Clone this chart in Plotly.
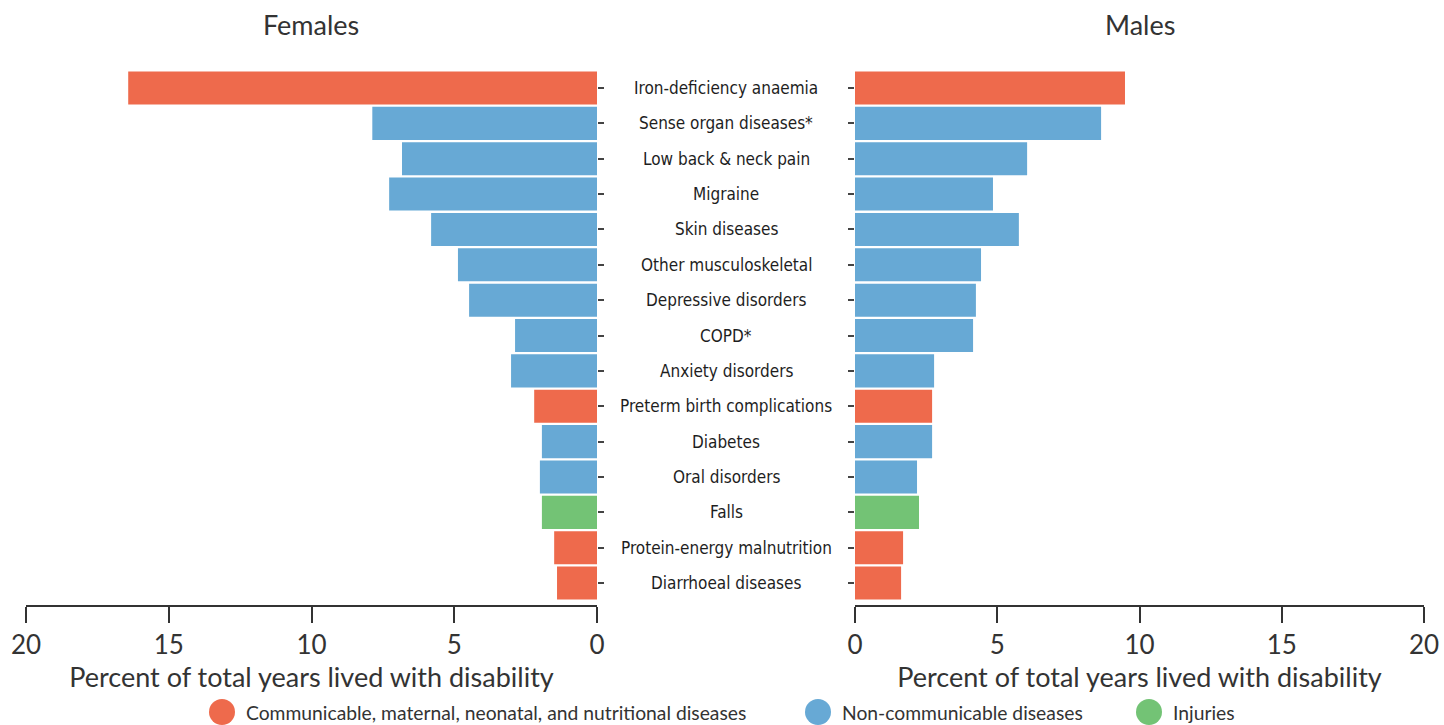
import plotly.graph_objects as go

categories = ["Iron-deficiency anaemia", "Sense organ diseases*", "Low back & neck pain",
              "Migraine", "Skin diseases", "Other musculoskeletal", "Depressive disorders",
              "COPD*", "Anxiety disorders", "Preterm birth complications", "Diabetes",
              "Oral disorders", "Falls", "Protein-energy malnutrition", "Diarrhoeal diseases"]
groups = ["Communicable", "NCD", "NCD", "NCD", "NCD", "NCD", "NCD", "NCD", "NCD",
          "Communicable", "NCD", "NCD", "Injuries", "Communicable", "Communicable"]
females = [16.42, 7.87, 6.83, 7.28, 5.81, 4.87, 4.48, 2.87, 3.01, 2.2, 1.93, 2.0, 1.93, 1.5, 1.4]
males = [9.49, 8.65, 6.05, 4.85, 5.76, 4.43, 4.25, 4.15, 2.78, 2.71, 2.71, 2.18, 2.25, 1.69, 1.62]
legend_labels = {"Communicable": "Communicable, maternal, neonatal, and nutritional diseases",
                 "NCD": "Non-communicable diseases",
                 "Injuries": "Injuries"}
tick_vals = [0, 5, 10, 15, 20]

colors = {"Communicable": "#EE6A4C", "NCD": "#67A9D5", "Injuries": "#73C375"}
bar_colors = [colors[g] for g in groups]

W, H = 1444, 725
fig = go.Figure()
fig.add_trace(go.Bar(x=females, y=categories, orientation="h", marker_color=bar_colors,
                     marker_line_width=0, xaxis="x", yaxis="y", showlegend=False,
                     hoverinfo="x+y"))
fig.add_trace(go.Bar(x=males, y=categories, orientation="h", marker_color=bar_colors,
                     marker_line_width=0, xaxis="x2", yaxis="y2", showlegend=False,
                     hoverinfo="x+y"))

ydom = [120 / H, 654.7 / H]
axis_font = dict(family="Lato, Open Sans, sans-serif", size=26, color="#333")
title_ax_font = dict(family="Lato, Open Sans, sans-serif", size=27, color="#333")
common_x = dict(tickvals=tick_vals, ticks="outside", ticklen=16, tickwidth=1.5,
                tickcolor="#333", showline=True, linecolor="#333", linewidth=1.5,
                showgrid=False, zeroline=False, tickfont=axis_font, automargin=False,
                title=dict(text="Percent of total years lived with disability",
                           font=title_ax_font, standoff=2))
common_y = dict(domain=ydom, range=[14.62, -0.5], showticklabels=False, ticks="outside",
                ticklen=6, tickwidth=1.5, tickcolor="#444", showgrid=False, showline=False,
                zeroline=False, type="category", categoryorder="array",
                categoryarray=categories, automargin=False)
fig.update_layout(
    width=W, height=H, plot_bgcolor="white", paper_bgcolor="white",
    margin=dict(l=0, r=0, t=0, b=0, autoexpand=False), bargap=0.065, showlegend=False,
    xaxis=dict(domain=[26 / W, 597 / W], anchor="y", range=[20, 0], **common_x),
    xaxis2=dict(domain=[855 / W, 1424 / W], anchor="y2", range=[0, 20], **common_x),
    yaxis=dict(anchor="x", side="right", **common_y),
    yaxis2=dict(anchor="x2", side="left", **common_y),
)

cat_font = dict(family="DejaVu Sans Condensed, Liberation Sans Narrow, sans-serif", size=17, color="#1e1e1e")
for c in categories:
    fig.add_annotation(x=726 / W, xref="paper", y=c, yref="y", text=c, showarrow=False,
                       xanchor="center", yanchor="middle", font=cat_font)

title_font = dict(family="Lato, Open Sans, sans-serif", size=27, color="#333")
fig.add_annotation(x=311 / W, y=1 - 25 / H, xref="paper", yref="paper", text="Females",
                   showarrow=False, xanchor="center", yanchor="middle", font=title_font)
fig.add_annotation(x=1140 / W, y=1 - 25 / H, xref="paper", yref="paper", text="Males",
                   showarrow=False, xanchor="center", yanchor="middle", font=title_font)

# legend built from shapes + text
leg_font = dict(family="Lato, Open Sans, sans-serif", size=19.3, color="#333")
leg_x = [222, 818, 1149]
leg_y = 712
r = 13
for gx, key in zip(leg_x, ["Communicable", "NCD", "Injuries"]):
    fig.add_shape(type="circle", xref="paper", yref="paper",
                  x0=(gx - r) / W, x1=(gx + r) / W, y0=1 - (leg_y + r) / H, y1=1 - (leg_y - r) / H,
                  fillcolor=colors[key], line_width=0)
    fig.add_annotation(x=(gx + 22) / W, y=1 - leg_y / H, xref="paper", yref="paper",
                       text=legend_labels[key], showarrow=False, xanchor="left",
                       yanchor="middle", font=leg_font)

fig.write_html("out.html", config={"displayModeBar": False},
               post_script="document.body.style.margin='0';document.body.style.overflow='hidden';")
